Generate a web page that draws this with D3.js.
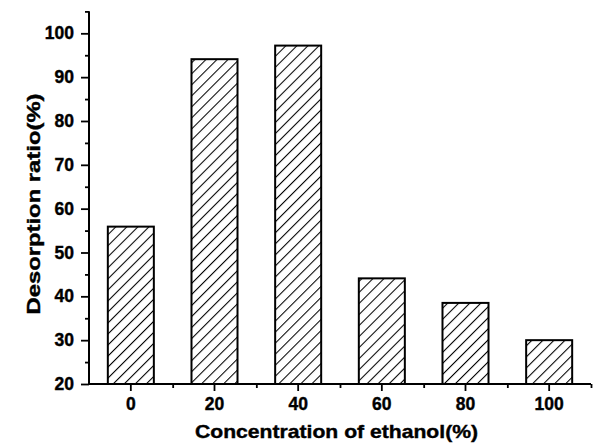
<!DOCTYPE html>
<html>
<head>
<meta charset="utf-8">
<script src="https://cdn.jsdelivr.net/npm/d3@7"></script>
<style>
  html, body { margin: 0; padding: 0; background: #fff; }
  text { font-family: "Liberation Sans", Arial, sans-serif; font-weight: bold; fill: #000; stroke: #000; stroke-width: 0.4px; }
</style>
</head>
<body>
<svg id="chart" width="593" height="443"></svg>
<script>
// Ethanol concentration (%) and resulting desorption ratio (%)
const categories = ["0", "20", "40", "60", "80", "100"];
const desorption = [55.9, 94.1, 97.2, 44.1, 38.5, 30.0];
const yTicks = [20, 30, 40, 50, 60, 70, 80, 90, 100];
const yMinorTicks = [25, 35, 45, 55, 65, 75, 85, 95, 105];

const svg = d3.select("#chart");
const plotLeft = 89, plotRight = 591, plotTop = 11.4, plotBottom = 384;

const x = d3.scaleBand().domain(categories).range([plotLeft, plotRight]).padding(0);
const y = d3.scaleLinear().domain([20, 105]).range([plotBottom, plotTop]);
const barW = x.bandwidth() * 0.55;

// diagonal hatch fill
const defs = svg.append("defs");
defs.append("pattern")
  .attr("id", "hatch")
  .attr("patternUnits", "userSpaceOnUse")
  .attr("width", 7.8).attr("height", 7.8)
  .attr("patternTransform", "rotate(45)")
  .append("line")
  .attr("x1", 0).attr("y1", -1).attr("x2", 0).attr("y2", 8.8)
  .attr("stroke", "#000").attr("stroke-width", 2.1);

// bars
svg.append("g").selectAll("rect")
  .data(categories)
  .join("rect")
  .attr("x", (d) => x(d) + x.bandwidth() / 2 - barW / 2)
  .attr("y", (d, i) => y(desorption[i]))
  .attr("width", barW)
  .attr("height", (d, i) => y(20) - y(desorption[i]))
  .attr("fill", "url(#hatch)")
  .attr("stroke", "#000")
  .attr("stroke-width", 2);

// y axis
const yAxis = svg.append("g").attr("transform", `translate(${plotLeft},0)`);
yAxis.call(d3.axisLeft(y).tickValues(yTicks).tickSize(8).tickPadding(7).tickFormat(d3.format("d")));
yAxis.append("g").call(d3.axisLeft(y).tickValues(yMinorTicks).tickSize(4).tickFormat(""));
yAxis.selectAll(".domain").attr("stroke-width", 2).attr("d", `M0,${plotBottom}V${plotTop}`);
yAxis.selectAll(".tick line").attr("stroke", "#000").attr("stroke-width", 1.8);
yAxis.selectAll(".tick text").style("font-size", "17.5px");

// x axis: major ticks at category centres, minor ticks at band edges
const xAxis = svg.append("g").attr("transform", `translate(0,${plotBottom})`);
xAxis.call(d3.axisBottom(x).tickSize(7).tickPadding(6.5));
const edges = categories.map((d) => x(d)).concat([plotRight]);
const edgeScale = d3.scaleLinear().domain([plotLeft, plotRight]).range([plotLeft, plotRight]);
xAxis.append("g").call(d3.axisBottom(edgeScale).tickValues(edges.slice(1)).tickSize(4).tickFormat(""));
xAxis.selectAll(".domain").attr("stroke-width", 2).attr("d", `M${plotLeft},0H${plotRight}`);
xAxis.selectAll(".tick line").attr("stroke", "#000").attr("stroke-width", 1.8);
xAxis.selectAll(".tick text").style("font-size", "17.5px");

// axis titles
svg.append("text")
  .attr("x", 336.5).attr("y", 438)
  .attr("text-anchor", "middle")
  .attr("textLength", 283)
  .attr("lengthAdjust", "spacingAndGlyphs")
  .style("font-size", "18.6px")
  .text("Concentration of ethanol(%)");

svg.append("text")
  .attr("transform", "translate(40,204) rotate(-90)")
  .attr("text-anchor", "middle")
  .attr("textLength", 221)
  .attr("lengthAdjust", "spacingAndGlyphs")
  .style("font-size", "18.6px")
  .text("Desorption ratio(%)");
</script>
</body>
</html>
